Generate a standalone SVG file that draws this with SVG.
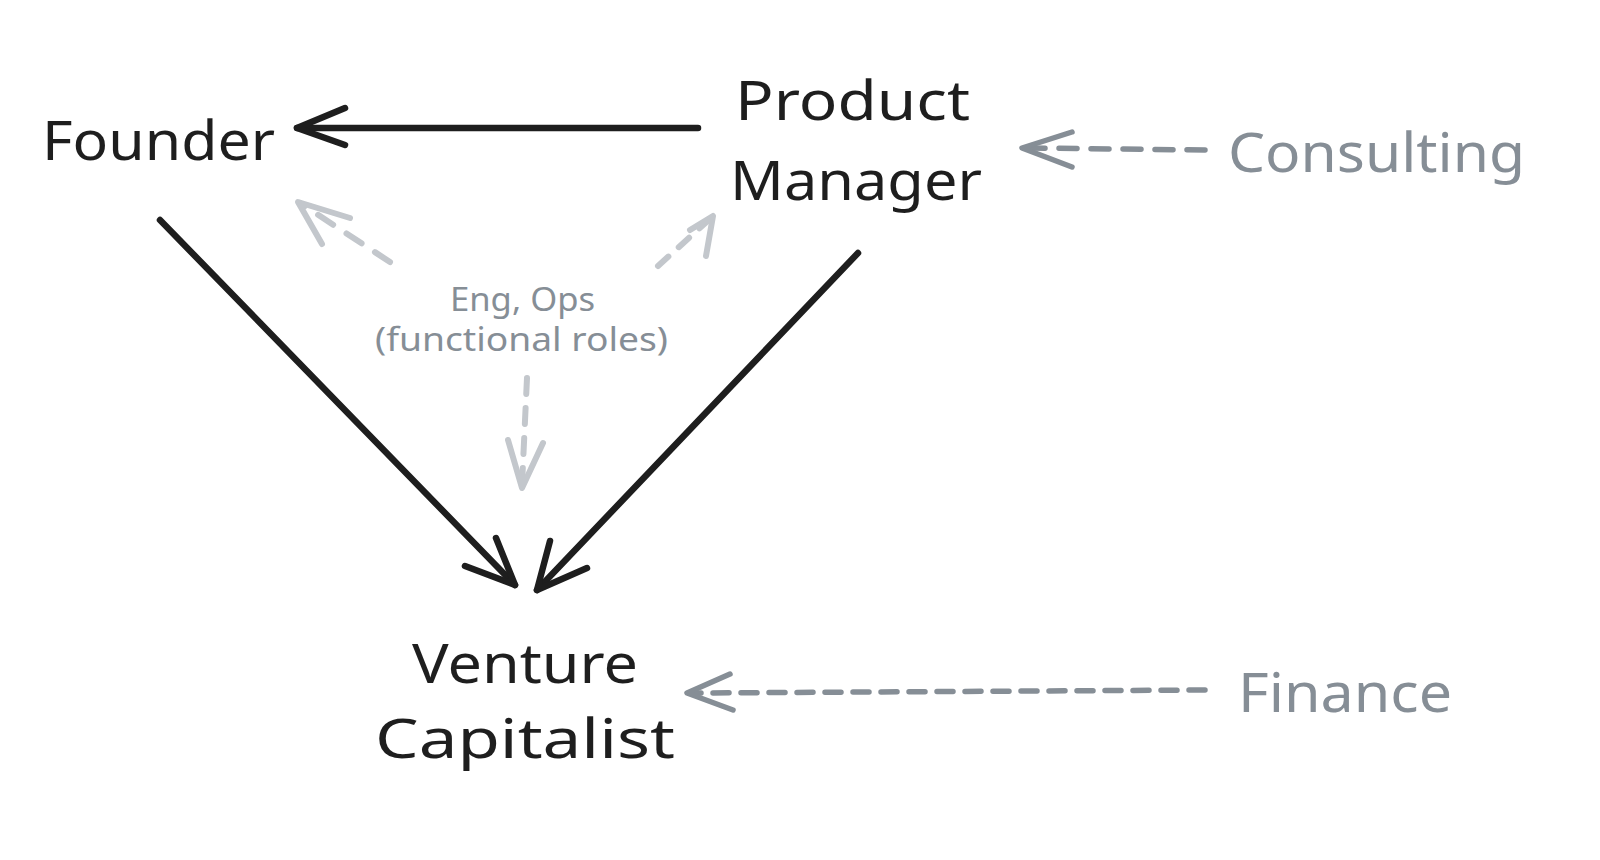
<svg xmlns="http://www.w3.org/2000/svg" width="1600" height="860" viewBox="0 0 1600 860">
<style>
.t{font-family:"Noto Sans","Liberation Sans",sans-serif;}
.big{font-size:54px;fill:#1e1e1e;}
.gray{font-size:54px;fill:#868e96;}
.small{font-size:32px;fill:#868e96;}
.solid{stroke:#1e1e1e;stroke-width:6.5;fill:none;stroke-linecap:round;stroke-linejoin:round;}
.dash{stroke:#868e96;stroke-width:5.5;fill:none;stroke-linecap:round;stroke-linejoin:round;}
.light{stroke:#c3c7cc;stroke-width:6;fill:none;stroke-linecap:round;stroke-linejoin:round;}
</style>
<rect width="1600" height="860" fill="#ffffff"/>
<g id="connectors">
  <g id="pm-founder"><path class="solid" d="M698,128 L297,128"/><path class="solid" d="M345,108 L297,128 L345,145"/></g>
  <g id="founder-vc"><path class="solid" d="M160,220 L515,585"/><path class="solid" d="M465,566 L515,585 L496,538"/></g>
  <g id="pm-vc"><path class="solid" d="M858,253 L537,590"/><path class="solid" d="M550,541 L537,590 L587,568"/></g>
  <g id="consulting-pm"><path class="dash" d="M1205,150 L1030,148" stroke-dasharray="18,14"/><path class="dash" d="M1072,132 L1022,148 L1072,167"/></g>
  <g id="finance-vc"><path class="dash" d="M1205,690 L695,693" stroke-dasharray="16,12"/><path class="dash" d="M730,674 L687,693 L733,710"/></g>
  <g id="roles-founder"><path class="light" d="M390,262 L300,203" stroke-dasharray="18,16"/><path class="light" d="M350,218 L298,202 L322,244"/></g>
  <g id="roles-pm"><path class="light" d="M658,266 L712,217" stroke-dasharray="14,14"/><path class="light" d="M690,230 L713,216 L706,256"/></g>
  <g id="roles-vc"><path class="light" d="M527,378 L522,485" stroke-dasharray="16,14"/><path class="light" d="M508,440 L522,488 L543,443"/></g>
</g>
<g id="founder"><text class="t big" x="42" y="160" textLength="233" lengthAdjust="spacingAndGlyphs">Founder</text></g>
<g id="product-manager">
  <text class="t big" x="735" y="120" textLength="235" lengthAdjust="spacingAndGlyphs">Product</text>
  <text class="t big" x="730" y="200" textLength="252" lengthAdjust="spacingAndGlyphs">Manager</text>
</g>
<g id="venture-capitalist">
  <text class="t big" x="412" y="683" textLength="226" lengthAdjust="spacingAndGlyphs">Venture</text>
  <text class="t big" x="375" y="758" textLength="300" lengthAdjust="spacingAndGlyphs">Capitalist</text>
</g>
<g id="consulting"><text class="t gray" x="1228" y="172" textLength="297" lengthAdjust="spacingAndGlyphs">Consulting</text></g>
<g id="finance"><text class="t gray" x="1238" y="712" textLength="214" lengthAdjust="spacingAndGlyphs">Finance</text></g>
<g id="functional-roles">
  <text class="t small" x="450" y="311" textLength="145" lengthAdjust="spacingAndGlyphs">Eng, Ops</text>
  <text class="t small" x="375" y="351" textLength="293" lengthAdjust="spacingAndGlyphs">(functional roles)</text>
</g>
</svg>
